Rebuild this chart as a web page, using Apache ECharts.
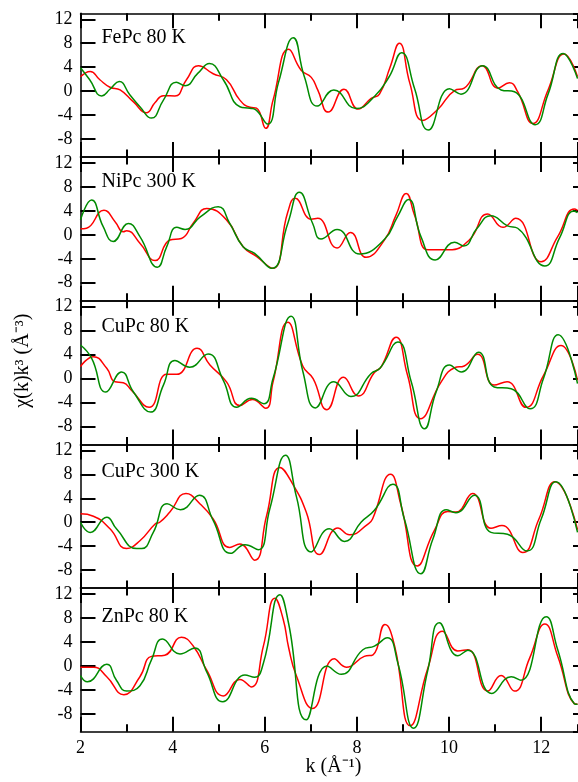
<!DOCTYPE html>
<html>
<head>
<meta charset="utf-8">
<script src="https://cdn.jsdelivr.net/npm/echarts@6/dist/echarts.min.js"></script>
<style>html,body{margin:0;padding:0;background:#fff;}#c{width:578px;height:782px;}</style>
</head>
<body>
<div id="c"></div>
<script>
// ---- data ----
const panelNames = ['FePc 80 K', 'NiPc 300 K', 'CuPc 80 K', 'CuPc 300 K', 'ZnPc 80 K'];
const xName = 'k (Å⁻¹)';
const yName = 'χ(k)k³ (Å⁻³)';
const yTickStep = 4;   // tick labels: -8, -4, 0, 4, 8, 12
const xTickStep = 2;   // tick labels: 2, 4, 6, 8, 10, 12
const xMinorStep = 1;

// FePc 80 K
const fePcRedK = [2.0,2.21,2.42,2.64,2.86,3.15,3.43,3.62,3.8,4.05,4.3,4.56,4.88,5.17,5.46,5.68,5.82,6.02,6.18,6.52,6.79,7.01,7.15,7.38,7.72,8.03,8.31,8.49,8.72,8.92,9.15,9.43,9.75,10.12,10.33,10.72,11.06,11.31,11.49,11.82,12.15,12.5,12.79];
const fePcRedV = [2.4,3.3,1.9,0.65,0.2,-1.8,-3.6,-1.9,-0.75,-0.8,1.9,4.25,2.9,1.9,-1.5,-2.7,-2.85,-6.2,-1.5,7.0,3.5,2.3,0.2,-3.5,0.3,-3.0,-1.2,-0.5,4.0,8.0,1.3,-4.9,-3.1,0.1,0.5,4.25,0.5,1.4,-0.1,-5.4,0.2,6.2,2.4];
const fePcGreenK = [2.0,2.2,2.46,2.65,2.84,3.07,3.29,3.54,3.8,4.08,4.27,4.55,4.8,5.1,5.46,5.68,5.8,6.06,6.3,6.62,6.86,7.14,7.5,7.98,8.38,8.7,8.97,9.25,9.55,10.01,10.26,10.73,11.13,11.42,11.87,12.15,12.48,12.79];
const fePcGreenV = [3.9,1.9,-0.8,0.4,1.6,-0.6,-2.6,-4.5,-1.5,1.5,0.9,3.0,4.6,1.9,-2.6,-2.85,-3.1,-5.5,1.5,8.9,2.4,-2.5,0.2,-2.9,-0.9,2.4,6.4,0.5,-6.5,0.4,-0.5,4.25,0.2,-0.1,-5.6,-0.5,6.3,2.1];

// NiPc 300 K
const niPcRedK = [2.0,2.13,2.51,2.75,2.93,3.0,3.29,3.62,3.94,4.19,4.45,4.74,5.17,5.53,5.82,6.17,6.5,6.66,7.01,7.15,7.57,7.86,8.2,8.6,8.85,9.07,9.25,9.54,9.79,10.0,10.44,10.84,11.17,11.45,12.0,12.36,12.72,12.79];
const niPcRedV = [1.0,1.1,4.1,2.2,0.5,0.7,-1.4,-4.3,-0.85,-0.6,2.0,4.4,2.5,-2.0,-3.6,-5.6,3.8,6.1,2.6,2.75,-2.2,0.4,-3.75,-0.85,3.3,6.9,3.3,-2.5,-2.5,-2.5,-0.85,3.5,1.25,2.75,-4.5,-0.3,4.3,4.1];
const niPcGreenK = [2.0,2.24,2.49,2.71,3.04,3.29,3.67,3.87,4.09,4.27,4.6,4.99,5.24,5.53,5.78,6.15,6.5,6.75,7.04,7.22,7.57,8.06,8.6,8.88,9.12,9.39,9.7,10.12,10.32,10.6,10.91,11.27,11.49,12.08,12.4,12.71,12.79];
const niPcGreenV = [2.5,5.8,1.4,-1.1,1.9,-0.3,-5.4,-2.0,1.25,0.9,3.0,4.7,1.9,-2.0,-3.1,-5.6,1.9,7.1,1.9,-0.7,0.9,-3.2,-0.75,3.0,5.9,-0.3,-4.2,-1.25,-1.85,1.0,3.2,1.5,1.1,-5.2,-0.5,4.0,3.7];

// CuPc 80 K
const cuPc80RedK = [2.0,2.28,2.57,2.75,2.93,3.11,3.49,3.87,4.09,4.53,4.81,5.17,5.46,5.73,6.02,6.18,6.5,6.83,7.05,7.35,7.71,8.03,8.38,8.53,8.85,9.1,9.38,9.83,10.12,10.33,10.62,10.98,11.26,11.67,12.05,12.43,12.79];
const cuPc80RedV = [2.0,3.65,1.7,-0.55,-0.7,-2.0,-4.8,0.7,0.7,5.05,2.25,-0.55,-4.5,-3.5,-4.95,-0.55,9.4,2.0,0,-5.2,0.2,-2.9,1.0,2.0,6.9,0.55,-6.7,-0.55,1.8,2.1,4.05,-1.1,-0.55,-4.8,0.5,5.5,-0.3];
const cuPc80GreenK = [2.0,2.24,2.55,2.89,3.15,3.52,3.8,4.05,4.37,4.77,5.1,5.39,5.71,5.98,6.18,6.57,6.83,7.1,7.5,7.87,8.31,8.5,8.89,9.18,9.47,9.72,10.01,10.27,10.64,10.98,11.35,11.76,12.05,12.37,12.79];
const cuPc80GreenV = [5.6,3.4,-2.25,1.1,-2.25,-5.6,-1.1,3.0,1.9,4.1,-0.3,-4.8,-3.3,-4.2,0,10.4,1.1,-4.9,-0.55,-3.0,0.85,1.7,6.1,-0.55,-8.4,-2.25,2.25,1.1,4.4,-1.4,-1.7,-5.05,0,7.3,-0.85];

// CuPc 300 K
const cuPc300RedK = [2.0,2.28,2.64,3.0,3.29,3.62,3.72,3.94,4.29,4.59,4.88,5.24,5.46,5.78,6.04,6.33,6.62,6.9,7.19,7.59,7.84,8.24,8.34,8.73,8.96,9.31,9.68,9.97,10.15,10.51,10.91,11.15,11.6,11.95,12.3,12.79];
const cuPc300RedV = [1.4,1.0,-1.1,-4.4,-3.1,-0.3,0,1.7,4.8,3.1,0.55,-4.2,-3.65,-6.35,1.1,9.15,6.2,1.7,-5.4,-0.95,-2.1,-0.3,0.55,8.0,2.8,-7.3,-1.4,1.8,1.7,4.8,-1.0,-0.55,-5.05,0.5,6.75,-1.25];
const cuPc300GreenK = [2.0,2.21,2.57,2.78,3.22,3.33,3.58,3.88,4.17,4.58,4.88,5.26,5.57,5.86,6.11,6.45,6.69,7.01,7.4,7.73,8.09,8.38,8.78,9.03,9.39,9.65,9.94,10.15,10.55,10.91,11.27,11.69,12.0,12.32,12.79];
const cuPc300GreenV = [0,-1.7,0.85,-1.1,-4.4,-4.4,-1.7,3.1,2.1,4.5,0.3,-5.2,-3.75,-4.6,2.25,11.2,4.2,-4.95,-1.1,-3.2,0,2.0,6.35,0.55,-8.6,-2.8,2.1,1.6,4.5,-1.7,-2.0,-4.8,0.5,6.75,-1.7];

// ZnPc 80 K
const znPcRedK = [2.0,2.28,2.57,2.94,3.29,3.54,3.83,4.19,4.45,4.74,5.1,5.46,5.71,5.97,6.22,6.4,6.52,6.68,7.04,7.51,7.77,8.16,8.35,8.61,8.82,9.16,9.54,9.86,10.19,10.41,10.84,11.13,11.42,11.75,12.08,12.36,12.72,12.79];
const znPcRedV = [-0.2,-0.2,-1.8,-4.8,-1.8,1.6,1.8,4.8,3.3,-0.7,-5.0,-2.25,-3.5,3.3,11.3,7.8,3.0,-1.5,-7.1,1.2,-0.2,1.6,1.85,6.9,3.3,-10.0,-0.4,5.8,2.5,2.7,-4.2,-1.6,-4.2,1.3,7.0,1.6,-6.3,-6.4];
const znPcGreenK = [2.0,2.15,2.57,2.78,3.0,3.29,3.54,3.78,4.16,4.48,4.74,5.09,5.57,5.78,5.97,6.33,6.52,6.9,7.35,7.66,8.13,8.38,8.66,8.89,9.23,9.54,9.79,10.19,10.41,10.93,11.35,11.56,12.11,12.36,12.72,12.79];
const znPcGreenV = [-1.6,-2.65,0.3,-2.4,-4.2,-3.3,1.0,4.5,2.0,3.0,-1.0,-6.0,-1.5,-1.9,0.45,11.9,7.0,-9.0,0,-1.4,2.7,3.3,4.7,0.45,-10.4,-0.7,7.2,1.7,2.6,-4.6,-1.8,-2.4,8.2,2.7,-6.3,-6.4];

const redK = [fePcRedK, niPcRedK, cuPc80RedK, cuPc300RedK, znPcRedK];
const redV = [fePcRedV, niPcRedV, cuPc80RedV, cuPc300RedV, znPcRedV];
const greenK = [fePcGreenK, niPcGreenK, cuPc80GreenK, cuPc300GreenK, znPcGreenK];
const greenV = [fePcGreenV, niPcGreenV, cuPc80GreenV, cuPc300GreenV, znPcGreenV];

// ---- layout ----
const FONT = '"Liberation Serif", "Times New Roman", serif';
const GL = 80.5, GT = 13.3, GH = 143.7;
const GW = 578 - GL;          // plot runs to the right edge of the page
const X_MIN = 2, X_MAX = 12.8; // visible part of the k range
const zip = (k, v) => k.map((x, i) => [x, v[i]]);

const grids = [], xAxes = [], yAxes = [], series = [], titles = [];
for (let i = 0; i < 5; i++) grids.push({ left: GL, width: GW, top: GT + i * GH, height: GH });
// helper grid used only to place the axis titles
grids.push({ left: 89, width: 489, top: GT, height: 705.4 });

const tickStyle = { color: '#000', width: 2 };
for (let i = 0; i < 5; i++) {
  ['left', 'right'].forEach((pos) => {
    yAxes.push({
      type: 'value', gridIndex: i, position: pos, min: -11, max: 13,
      minInterval: yTickStep, maxInterval: yTickStep,
      axisLine: { show: pos === 'left', lineStyle: { color: '#000', width: 1.5 } },
      axisTick: { show: true, inside: true, length: pos === 'left' ? 15 : 5, lineStyle: tickStyle },
      axisLabel: { show: pos === 'left', showMinLabel: false, showMaxLabel: false,
        color: '#000', fontFamily: FONT, fontSize: 18, margin: 8 },
      splitLine: { show: false }
    });
  });
}
const helperBase = yAxes.length; // hidden axes without zero, keep x axes on the frame
for (let i = 0; i < 5; i++) yAxes.push({ type: 'value', gridIndex: i, min: 1, max: 2, show: false });
yAxes.push({
  type: 'value', gridIndex: 5, min: 0, max: 1, position: 'left',
  axisLine: { show: false }, axisTick: { show: false }, axisLabel: { show: false }, splitLine: { show: false },
  name: yName, nameLocation: 'middle', nameRotate: 90, nameGap: 56,
  nameTextStyle: { color: '#000', fontFamily: FONT, fontSize: 20 }
});

for (let i = 0; i < 5; i++) {
  ['bottom', 'top'].forEach((pos) => {
    // major ticks
    xAxes.push({
      type: 'value', gridIndex: i, position: pos, min: X_MIN, max: X_MAX, interval: xTickStep,
      axisLine: { show: true, onZeroAxisIndex: helperBase + i, lineStyle: { color: '#000', width: 1.5 } },
      axisTick: { show: true, inside: true, length: 15, lineStyle: tickStyle },
      axisLabel: {
        show: (i === 4 && pos === 'bottom'), color: '#000', fontFamily: FONT, fontSize: 18, margin: 7,
        showMaxLabel: false
      },
      splitLine: { show: false }
    });
    // minor ticks
    xAxes.push({
      type: 'value', gridIndex: i, position: pos, min: X_MIN, max: X_MAX, interval: xMinorStep,
      axisLine: { show: false, onZeroAxisIndex: helperBase + i },
      axisTick: { show: true, inside: true, length: 7.5, lineStyle: tickStyle },
      axisLabel: { show: false },
      splitLine: { show: false }
    });
  });
  series.push({
    type: 'line', xAxisIndex: i * 4, yAxisIndex: i * 2, data: zip(redK[i], redV[i]),
    smooth: 0.5, showSymbol: false, lineStyle: { color: '#ff0000', width: 1.5 }
  });
  series.push({
    type: 'line', xAxisIndex: i * 4, yAxisIndex: i * 2, data: zip(greenK[i], greenV[i]),
    smooth: 0.5, showSymbol: false, lineStyle: { color: '#008b00', width: 1.5 }
  });
  const tweak = [0, 1, 2, 3, 4.5][i];
  titles.push({
    text: panelNames[i], left: 101.5, top: GT + i * GH + 14 + tweak, padding: 0,
    textStyle: { color: '#000', fontFamily: FONT, fontSize: 20, fontWeight: 'normal' }
  });
}
xAxes.push({
  type: 'value', gridIndex: 5, min: 0, max: 1, position: 'bottom',
  axisLine: { show: false }, axisTick: { show: false }, axisLabel: { show: false }, splitLine: { show: false },
  name: xName, nameLocation: 'middle', nameGap: 49,
  nameTextStyle: { color: '#000', fontFamily: FONT, fontSize: 20 }
});

const chart = echarts.init(document.getElementById('c'));
chart.setOption({
  animation: false,
  backgroundColor: '#fff',
  title: titles,
  grid: grids, xAxis: xAxes, yAxis: yAxes, series: series
});
</script>
</body>
</html>
